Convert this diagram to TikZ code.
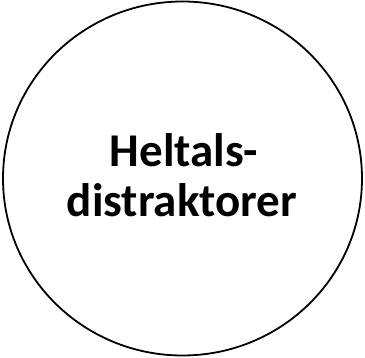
\documentclass[tikz,border=0pt]{standalone}
\usepackage{fontspec}
\setmainfont{Carlito}
\begin{document}
\begin{tikzpicture}[x=1pt,y=1pt]
\useasboundingbox (0,0) rectangle (365,357);
\tikzset{ring/.style={draw=black,line width=1.8pt},
  label/.style={font=\bfseries\fontsize{47}{50}\selectfont,inner sep=0pt,anchor=base}}
\draw[ring] (182.5,178.5) ellipse [x radius=179.5, y radius=177];
\node[label] (t1) at (184,190) {Heltals-};
\node[label] (t2) at (182,140) {distraktorer};
\end{tikzpicture}
\end{document}
